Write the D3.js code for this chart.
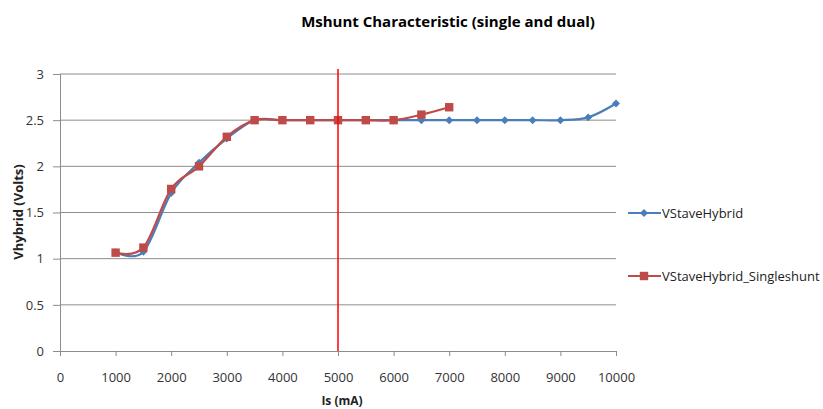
<!DOCTYPE html>
<meta charset="utf-8">
<style>
    body { margin: 0; background: #fff; }
    text { font-family: "Open Sans", "Liberation Sans", sans-serif; fill: #333; }
    .title { font-size: 15px; font-weight: bold; fill: #000; }
    .axis-title { font-weight: bold; fill: #222; }
    .grid line { stroke: #8c8c8c; stroke-width: 1px; }
    .legend text { font-size: 13px; fill: #222; }
</style>
<svg width="823" height="409"></svg>
<script src="https://d3js.org/d3.v7.min.js"></script>
<script>

    // data
    const currents = [1000, 1500, 2000, 2500, 3000, 3500, 4000, 4500, 5000, 5500, 6000, 6500, 7000, 7500, 8000, 8500, 9000, 9500, 10000];
    const dualValues = [1.07, 1.075, 1.71, 2.04, 2.30, 2.5, 2.5, 2.5, 2.5, 2.5, 2.5, 2.5, 2.5, 2.5, 2.5, 2.5, 2.5, 2.53, 2.68];
    const singleCurrents = [1000, 1500, 2000, 2500, 3000, 3500, 4000, 4500, 5000, 5500, 6000, 6500, 7000];
    const singleValues = [1.065, 1.12, 1.755, 2.0, 2.32, 2.5, 2.5, 2.5, 2.5, 2.5, 2.5, 2.56, 2.64];
    const xTicks = [0, 1000, 2000, 3000, 4000, 5000, 6000, 7000, 8000, 9000, 10000];
    const yTicks = [0, 0.5, 1, 1.5, 2, 2.5, 3];
    const markerLine = 5000;

    const series = [
        { name: "VStaveHybrid", xs: currents, ys: dualValues, color: "#4a7ebb", shape: d3.symbolDiamond2, size: 40 },
        { name: "VStaveHybrid_Singleshunt", xs: singleCurrents, ys: singleValues, color: "#be4b48", shape: d3.symbolSquare2, size: 90 }
    ];

    var svg = d3.select("svg");

    var x = d3.scaleLinear().domain([0, 10000]).range([60, 616]);
    var y = d3.scaleLinear().domain([0, 3]).range([351, 74]);

    // title
    svg.append("text")
        .attr("class", "title")
        .attr("x", 448).attr("y", 27)
        .attr("text-anchor", "middle")
        .text("Mshunt Characteristic (single and dual)");

    // horizontal grid
    svg.append("g")
        .attr("class", "grid")
        .selectAll("line")
        .data(yTicks.slice(1))
        .enter().append("line")
            .attr("x1", x(0)).attr("x2", x(10000))
            .attr("y1", d => y(d)).attr("y2", d => y(d));

    // axes
    var xAxis = svg.append("g")
        .attr("transform", "translate(0," + y(0) + ")")
        .call(d3.axisBottom(x).tickValues(xTicks).tickFormat(d3.format("d")).tickSize(5).tickPadding(17));
    var yAxis = svg.append("g")
        .attr("transform", "translate(" + x(0) + ",0)")
        .call(d3.axisLeft(y).tickValues(yTicks).tickFormat(d => d).tickSize(7).tickPadding(9));
    [xAxis, yAxis].forEach(function(a) {
        a.selectAll(".domain").attr("stroke", "#8c8c8c");
        a.selectAll(".tick line").attr("stroke", "#8c8c8c");
        a.selectAll(".tick text")
            .attr("fill", "#333")
            .style("font-family", "'Open Sans', sans-serif")
            .style("font-size", "13px");
    });

    svg.append("text")
        .attr("class", "axis-title")
        .attr("x", 342).attr("y", 405)
        .attr("text-anchor", "middle")
        .style("font-size", "12px")
        .text("Is (mA)");

    svg.append("text")
        .attr("class", "axis-title")
        .attr("transform", "translate(23,212) rotate(-90)")
        .attr("text-anchor", "middle")
        .style("font-size", "13px")
        .text("Vhybrid (Volts)");

    // lines and markers
    var line = d3.line()
        .x(d => x(d[0]))
        .y(d => y(d[1]))
        .curve(d3.curveCardinal.tension(0));

    series.forEach(function(s) {
        var pts = s.xs.map((v, i) => [v, s.ys[i]]);
        svg.append("path")
            .datum(pts)
            .attr("fill", "none")
            .attr("stroke", s.color)
            .attr("stroke-width", 2.2)
            .attr("d", line);
        svg.append("g")
            .selectAll("path")
            .data(pts)
            .enter().append("path")
                .attr("transform", d => "translate(" + x(d[0]) + "," + y(d[1]) + ")")
                .attr("d", d3.symbol().type(s.shape).size(s.size))
                .attr("fill", s.color);
    });

    // vertical reference line
    svg.append("line")
        .attr("x1", x(markerLine)).attr("x2", x(markerLine))
        .attr("y1", 69).attr("y2", y(0))
        .attr("stroke", "#ff0000")
        .attr("stroke-width", 1.5);

    // legend
    var legend = svg.append("g").attr("class", "legend")
        .selectAll("g")
        .data(series)
        .enter().append("g")
            .attr("transform", (d, i) => "translate(628," + (213 + i * 63) + ")");
    legend.append("line")
        .attr("x1", 0).attr("x2", 33)
        .attr("stroke", d => d.color)
        .attr("stroke-width", 2.2);
    legend.append("path")
        .attr("transform", "translate(16,0)")
        .attr("d", d => d3.symbol().type(d.shape).size(d.size)())
        .attr("fill", d => d.color);
    legend.append("text")
        .attr("x", 34).attr("dy", "0.35em")
        .text(d => d.name);

</script>
